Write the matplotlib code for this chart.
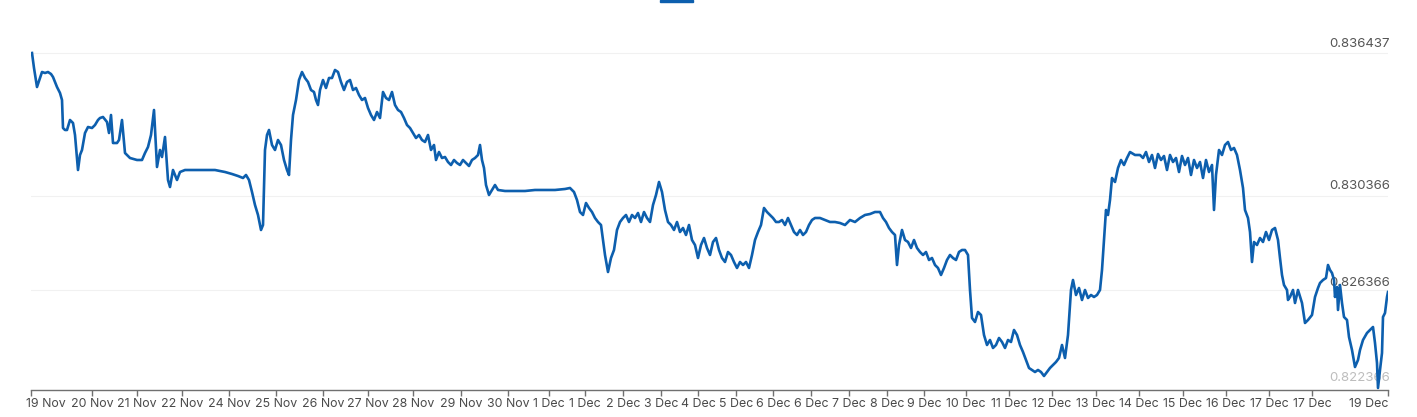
import matplotlib
matplotlib.use("Agg")
import matplotlib.pyplot as plt
import matplotlib.transforms as mtransforms
from matplotlib.patches import Rectangle

plt.rcParams['font.family'] = ['Inter', 'DejaVu Sans']

# Series: position along the (ordinal) time axis and rate value
t = [32, 34, 37, 40, 42, 45, 48, 51, 53, 55, 57, 60, 62, 63, 65, 67, 70, 73, 75, 78,
     80, 82, 85, 88, 92, 95, 98, 100, 103, 107, 109, 111, 113, 117, 119, 122, 125, 130, 137, 142,
     145, 148, 151, 154, 157, 160, 162, 165, 168, 170, 173, 177, 180,
     185, 195, 205, 215, 225, 232, 238, 243, 246, 249, 252, 255, 258, 261, 263, 265, 267,
     269, 272, 275, 278, 281, 284, 287, 289, 291, 293, 296, 299, 302, 305, 308, 311, 314, 316,
     318, 320, 323, 326, 329, 332, 335, 338, 341, 344, 347, 350, 353, 356, 359, 362, 365, 368,
     371, 374, 377, 380, 383, 386, 389, 392, 395, 398, 401, 404, 407, 410, 413, 416, 419, 422,
     425, 428, 431, 434, 436, 439, 442, 445, 448, 451, 454, 457, 460, 463, 466, 469, 472, 475,
     478, 480, 482, 484, 486, 489, 492, 495, 498, 505, 515, 525, 535, 545, 555, 565, 570, 574,
     577, 580, 583, 586, 589, 592, 595, 598, 601, 603, 605, 608, 611, 614, 617, 620, 623, 626,
     629, 632, 635, 638, 641, 644, 647, 650, 653, 656, 659, 662, 665, 668, 671, 674, 677, 680,
     683, 686, 689, 692, 695, 698, 701, 704, 707, 710, 713, 716, 719, 722, 725, 728, 731, 734,
     737, 740, 743, 746, 749, 752, 755, 758, 761, 764, 767, 770, 773, 776, 779, 782, 785, 788,
     791, 794, 797, 800, 803, 806, 809, 812, 815, 820, 825, 830, 835, 840, 845, 850, 855, 860,
     865, 870, 875, 880, 883, 886, 889, 892, 895, 897, 899, 902, 905, 908, 911, 914, 917, 920,
     923, 926, 929, 932, 935, 938, 941, 944, 947, 950, 953, 956, 959, 962, 965, 968, 970, 972,
     975, 978, 981, 984, 987, 990, 993, 996, 999, 1002, 1005, 1008, 1011, 1014, 1017, 1020, 1023, 1026,
     1029, 1032, 1035, 1038, 1041, 1044, 1047, 1050, 1053, 1056, 1059, 1062, 1065, 1068, 1071, 1073, 1076, 1079,
     1082, 1085, 1088, 1091, 1094, 1097, 1100, 1102, 1104, 1106, 1108, 1110, 1112, 1115, 1118, 1121, 1124, 1127,
     1130, 1135, 1140, 1143, 1146, 1149, 1152, 1155, 1158, 1161, 1164, 1167, 1170, 1173, 1176, 1179, 1182, 1185,
     1188, 1191, 1194, 1197, 1200, 1203, 1206, 1209, 1212, 1214, 1216, 1219, 1222, 1225, 1228, 1231, 1234, 1237,
     1240, 1243, 1245, 1248, 1250, 1252, 1254, 1257, 1260, 1263, 1266, 1269, 1272, 1275, 1278, 1280, 1282, 1284,
     1287, 1288, 1290, 1293, 1295, 1298, 1302, 1305, 1308, 1312, 1315, 1318, 1320, 1323, 1326, 1328, 1330, 1332,
     1334, 1335, 1337, 1338, 1340, 1342, 1344, 1347, 1349, 1352, 1355, 1358, 1360, 1363, 1367, 1370, 1373, 1375,
     1377, 1378, 1380, 1382, 1383, 1385, 1387, 1388]

rate = [0.836451, 0.835813, 0.835004, 0.835387, 0.835642, 0.835600, 0.835642, 0.835557, 0.835430, 0.835217,
        0.835004, 0.834749, 0.834451, 0.833260, 0.833175, 0.833175, 0.833600, 0.833472, 0.832962, 0.831472,
        0.832111, 0.832324, 0.833047, 0.833302, 0.833260, 0.833387, 0.833600, 0.833685, 0.833728, 0.833515,
        0.833047, 0.833813, 0.832621, 0.832621, 0.832749, 0.833600, 0.832196, 0.831983, 0.831898, 0.831898,
        0.832196, 0.832451, 0.832962, 0.834026, 0.831600, 0.832324, 0.832026, 0.832877, 0.831047, 0.830749,
        0.831472, 0.831047, 0.831387,
        0.831472, 0.831472, 0.831472, 0.831472, 0.831387, 0.831302, 0.831217, 0.831132, 0.831260, 0.831047,
        0.830536, 0.829983, 0.829558, 0.828920, 0.829132, 0.832324, 0.832962,
        0.833175, 0.832536, 0.832324, 0.832749, 0.832536, 0.831898, 0.831472, 0.831260, 0.832749, 0.833813,
        0.834451, 0.835302, 0.835642, 0.835387, 0.835217, 0.834876, 0.834791, 0.834451,
        0.834238, 0.834876, 0.835302, 0.834962, 0.835387, 0.835387, 0.835728, 0.835642, 0.835217, 0.834876,
        0.835217, 0.835302, 0.834876, 0.834962, 0.834664, 0.834451, 0.834536, 0.834111,
        0.833813, 0.833600, 0.833940, 0.833685, 0.834791, 0.834536, 0.834451, 0.834791, 0.834238, 0.834026,
        0.833940, 0.833685, 0.833387, 0.833260, 0.833047, 0.832834, 0.832962, 0.832749,
        0.832664, 0.832962, 0.832324, 0.832536, 0.831898, 0.832238, 0.831983, 0.832026, 0.831813, 0.831685,
        0.831898, 0.831770, 0.831685, 0.831898, 0.831770, 0.831643, 0.831898, 0.831983,
        0.832111, 0.832536, 0.831898, 0.831558, 0.830834, 0.830409, 0.830622, 0.830834, 0.830622, 0.830579,
        0.830579, 0.830579, 0.830622, 0.830622, 0.830622, 0.830664, 0.830707, 0.830536,
        0.830196, 0.829685, 0.829558, 0.830068, 0.829856, 0.829685, 0.829430, 0.829260, 0.829132, 0.828494,
        0.827856, 0.827132, 0.827728, 0.828069, 0.828920, 0.829260, 0.829430, 0.829558,
        0.829260, 0.829558, 0.829430, 0.829643, 0.829260, 0.829685, 0.829430, 0.829260, 0.829983, 0.830409,
        0.830962, 0.830536, 0.829771, 0.829260, 0.829132, 0.828920, 0.829260, 0.828834,
        0.829005, 0.828707, 0.829132, 0.828494, 0.828281, 0.827728, 0.828281, 0.828579, 0.828154, 0.827856,
        0.828409, 0.828579, 0.828069, 0.827728, 0.827558, 0.827983, 0.827856, 0.827558,
        0.827303, 0.827558, 0.827430, 0.827558, 0.827303, 0.827856, 0.828494, 0.828834, 0.829132, 0.829856,
        0.829685, 0.829558, 0.829430, 0.829260, 0.829260, 0.829345, 0.829132, 0.829430,
        0.829132, 0.828834, 0.828707, 0.828920, 0.828707, 0.828834, 0.829132, 0.829345, 0.829430, 0.829430,
        0.829345, 0.829260, 0.829260, 0.829217, 0.829132, 0.829345, 0.829260, 0.829430,
        0.829558, 0.829600, 0.829685, 0.829685, 0.829430, 0.829260, 0.829005, 0.828834, 0.828707, 0.827430,
        0.828281, 0.828920, 0.828494, 0.828409, 0.828154, 0.828494, 0.828154, 0.827983,
        0.827856, 0.827983, 0.827643, 0.827728, 0.827430, 0.827303, 0.827005, 0.827303, 0.827643, 0.827856,
        0.827728, 0.827643, 0.827983, 0.828069, 0.828069, 0.827856, 0.826367, 0.825175,
        0.825005, 0.825430, 0.825303, 0.824452, 0.824026, 0.824239, 0.823899, 0.824026, 0.824324, 0.824154,
        0.823899, 0.824239, 0.824154, 0.824665, 0.824452, 0.824026, 0.823728, 0.823388,
        0.823048, 0.822963, 0.822877, 0.822963, 0.822877, 0.822707, 0.822877, 0.823048, 0.823175, 0.823303,
        0.823473, 0.824026, 0.823473, 0.824452, 0.826367, 0.826792, 0.826154, 0.826452,
        0.825941, 0.826367, 0.826026, 0.826154, 0.826069, 0.826154, 0.826367, 0.827218, 0.828494, 0.829771,
        0.829558, 0.830196, 0.831132, 0.830962, 0.831558, 0.831898, 0.831685, 0.831983,
        0.832238, 0.832111, 0.832111, 0.831983, 0.832238, 0.831813, 0.832111, 0.831558, 0.832153, 0.831898,
        0.832068, 0.831472, 0.832111, 0.831813, 0.831983, 0.831387, 0.832068, 0.831685,
        0.831983, 0.831260, 0.831898, 0.831558, 0.831813, 0.831132, 0.831898, 0.831387, 0.831685, 0.829771,
        0.831260, 0.832324, 0.832111, 0.832536, 0.832664, 0.832324, 0.832409, 0.832111,
        0.831472, 0.830707, 0.829771, 0.829430, 0.828834, 0.827558, 0.828409, 0.828281, 0.828579, 0.828409,
        0.828834, 0.828494, 0.828920, 0.829005, 0.828494, 0.827728, 0.827005, 0.826579,
        0.826367, 0.825941, 0.826069, 0.826367, 0.825813, 0.826367, 0.825813, 0.824962, 0.825090, 0.825303,
        0.826069, 0.826452, 0.826664, 0.826792, 0.826877, 0.827430, 0.827218, 0.827090,
        0.826792, 0.826069, 0.826494, 0.825516, 0.826579, 0.825813, 0.825218, 0.825090, 0.824367, 0.823813,
        0.823090, 0.823388, 0.823813, 0.824239, 0.824537, 0.824665, 0.824792, 0.824111,
        0.823260, 0.822197, 0.822963, 0.823686, 0.825218, 0.825388, 0.826069, 0.826281]

tick_pos = [31, 92, 137, 182, 229, 276, 323, 368, 413, 461, 508, 549, 585, 623, 661, 698,
            736, 773, 811, 849, 887, 924, 966, 1009, 1052, 1096, 1139, 1183, 1226, 1269, 1312, 1388]
tick_labels = ["19 Nov", "20 Nov", "21 Nov", "22 Nov", "24 Nov", "25 Nov", "26 Nov", "27 Nov",
               "28 Nov", "29 Nov", "30 Nov", "1 Dec", "1 Dec", "2 Dec", "3 Dec", "4 Dec",
               "5 Dec", "6 Dec", "6 Dec", "7 Dec", "8 Dec", "9 Dec", "10 Dec", "11 Dec",
               "12 Dec", "13 Dec", "14 Dec", "15 Dec", "16 Dec", "17 Dec", "17 Dec", "19 Dec"]

y_levels = [0.836437, 0.830366, 0.826366, 0.822366]
y_labels = ["0.836437", "0.830366", "0.826366", "0.822366"]

line_color = "#0d5fae"

fig = plt.figure(figsize=(14.17, 4.17), dpi=100)
ax = fig.add_axes([31 / 1417, 1 - 390 / 417, (1388 - 31) / 1417, 390 / 417])

# faint horizontal grid
for lv in y_levels[:3]:
    ax.axhline(lv, color="#f1f1f1", lw=0.8, zorder=0)

ax.plot(t, rate, color=line_color, lw=1.9, solid_joinstyle="round", zorder=3)

ax.set_xlim(31, 1388)
ax.set_ylim(0.822111, 0.838706)

for s in ["top", "right", "left"]:
    ax.spines[s].set_visible(False)
ax.spines["bottom"].set_color("#707070")
ax.spines["bottom"].set_linewidth(1.0)
ax.set_yticks([])

ax.set_xticks(tick_pos)
ax.set_xticklabels(tick_labels)
ax.tick_params(axis="x", length=4.5, width=1.0, color="#707070", pad=1.5,
               labelsize=8.9, labelcolor="#4a4a4a")
labels = ax.get_xticklabels()
labels[0].set_horizontalalignment("left")
labels[0].set_transform(labels[0].get_transform() +
                        mtransforms.ScaledTranslation(-5 / 100, 0, fig.dpi_scale_trans))
labels[-1].set_horizontalalignment("right")

# value labels on the right, inside the plot
offsets = [7, 7, 5, 4]
colors = ["#555555", "#555555", "#555555", "#bdbdbd"]
for lv, txt, off, c in zip(y_levels, y_labels, offsets, colors):
    ax.annotate(txt, xy=(1, lv), xycoords=("axes fraction", "data"),
                xytext=(1.5, off), textcoords="offset points",
                ha="right", va="center", fontsize=9.5, color=c, zorder=2)

# legend swatch cut off at the top edge
fig.patches.append(Rectangle((660 / 1417, 1 - 2 / 417), 33 / 1417, 2 / 417,
                             transform=fig.transFigure, color=line_color))

fig.savefig("out.png", dpi=100)
